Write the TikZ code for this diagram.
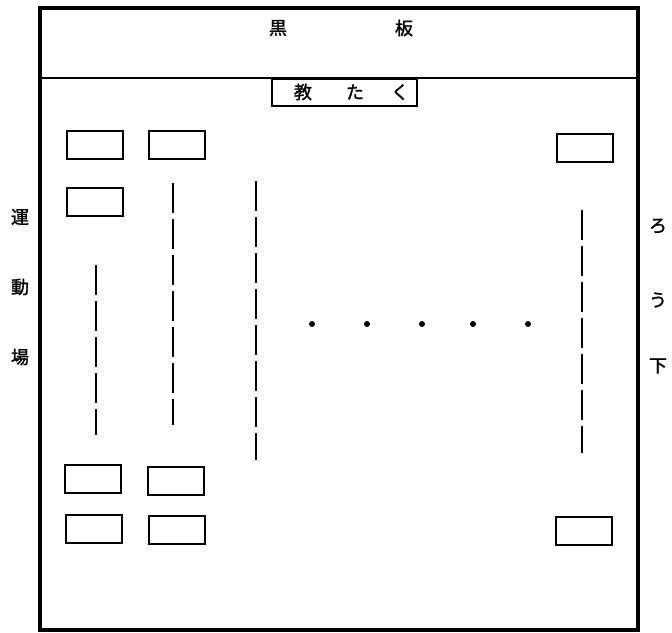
\documentclass[tikz,border=0pt]{standalone}
\usepackage{fontspec}
\newfontfamily\jpfont{Noto Sans CJK JP}[FakeBold=1.5]
\usetikzlibrary{positioning}

\begin{document}
\begin{tikzpicture}[x=1pt,y=-1pt,font=\jpfont\fontsize{18pt}{18pt}\selectfont,
      desk/.style={draw,line width=2pt,minimum width=56pt,minimum height=28pt,inner sep=0pt},
      row/.style={line width=2pt,dash pattern=on 30pt off 6pt},
      lbl/.style={inner sep=0pt},
      dot/.style={circle,fill,inner sep=0pt,minimum size=6pt}]
      \useasboundingbox (0,0) rectangle (672,632);
      % classroom and blackboard
      \draw[line width=3.5pt] (40,8) rectangle (638,630);
      \draw[line width=2pt] (40,78) -- (638,78);
      \node[lbl] (kuro) at (278,28) {黒};
      \node[lbl] (ban) at (404,28) {板};
      \node[desk,minimum width=145pt,minimum height=27pt] (kyotaku) at (344.5,92)
        {\hspace{14pt}教\hspace{34pt}た\hspace{27pt}く};
      % desks
      \node[desk] (d11) at (95,145) {};
      \node[desk] (d12) at (176.5,145) {};
      \node[desk] (d13) at (585,147.5) {};
      \node[desk] (d21) at (95,201.5) {};
      \node[desk] (d31) at (92.5,479) {};
      \node[desk] (d32) at (175.5,481) {};
      \node[desk] (d41) at (94,528.5) {};
      \node[desk] (d42) at (177,529.5) {};
      \node[desk] (d43) at (584,530.5) {};
      % rows of pupils
      \draw[row] (96,265) -- (96,435);
      \draw[row] (173,183) -- (173,425);
      \draw[row] (256,181) -- (256,460);
      \draw[row] (582,210) -- (582,453);
      \foreach \x/\n in {312/1,367/2,422/3,473/4,528/5}
        \node[dot] (p\n) at (\x,324) {};
      % sides
      \node[lbl] (un) at (20,217) {運};
      \node[lbl] (do) at (20,287) {動};
      \node[lbl] (jo) at (20,357) {場};
      \node[lbl] (ro) at (658,226) {ろ};
      \node[lbl] (u) at (658,300) {う};
      \node[lbl] (ka) at (658,366) {下};
    \end{tikzpicture}
\end{document}
